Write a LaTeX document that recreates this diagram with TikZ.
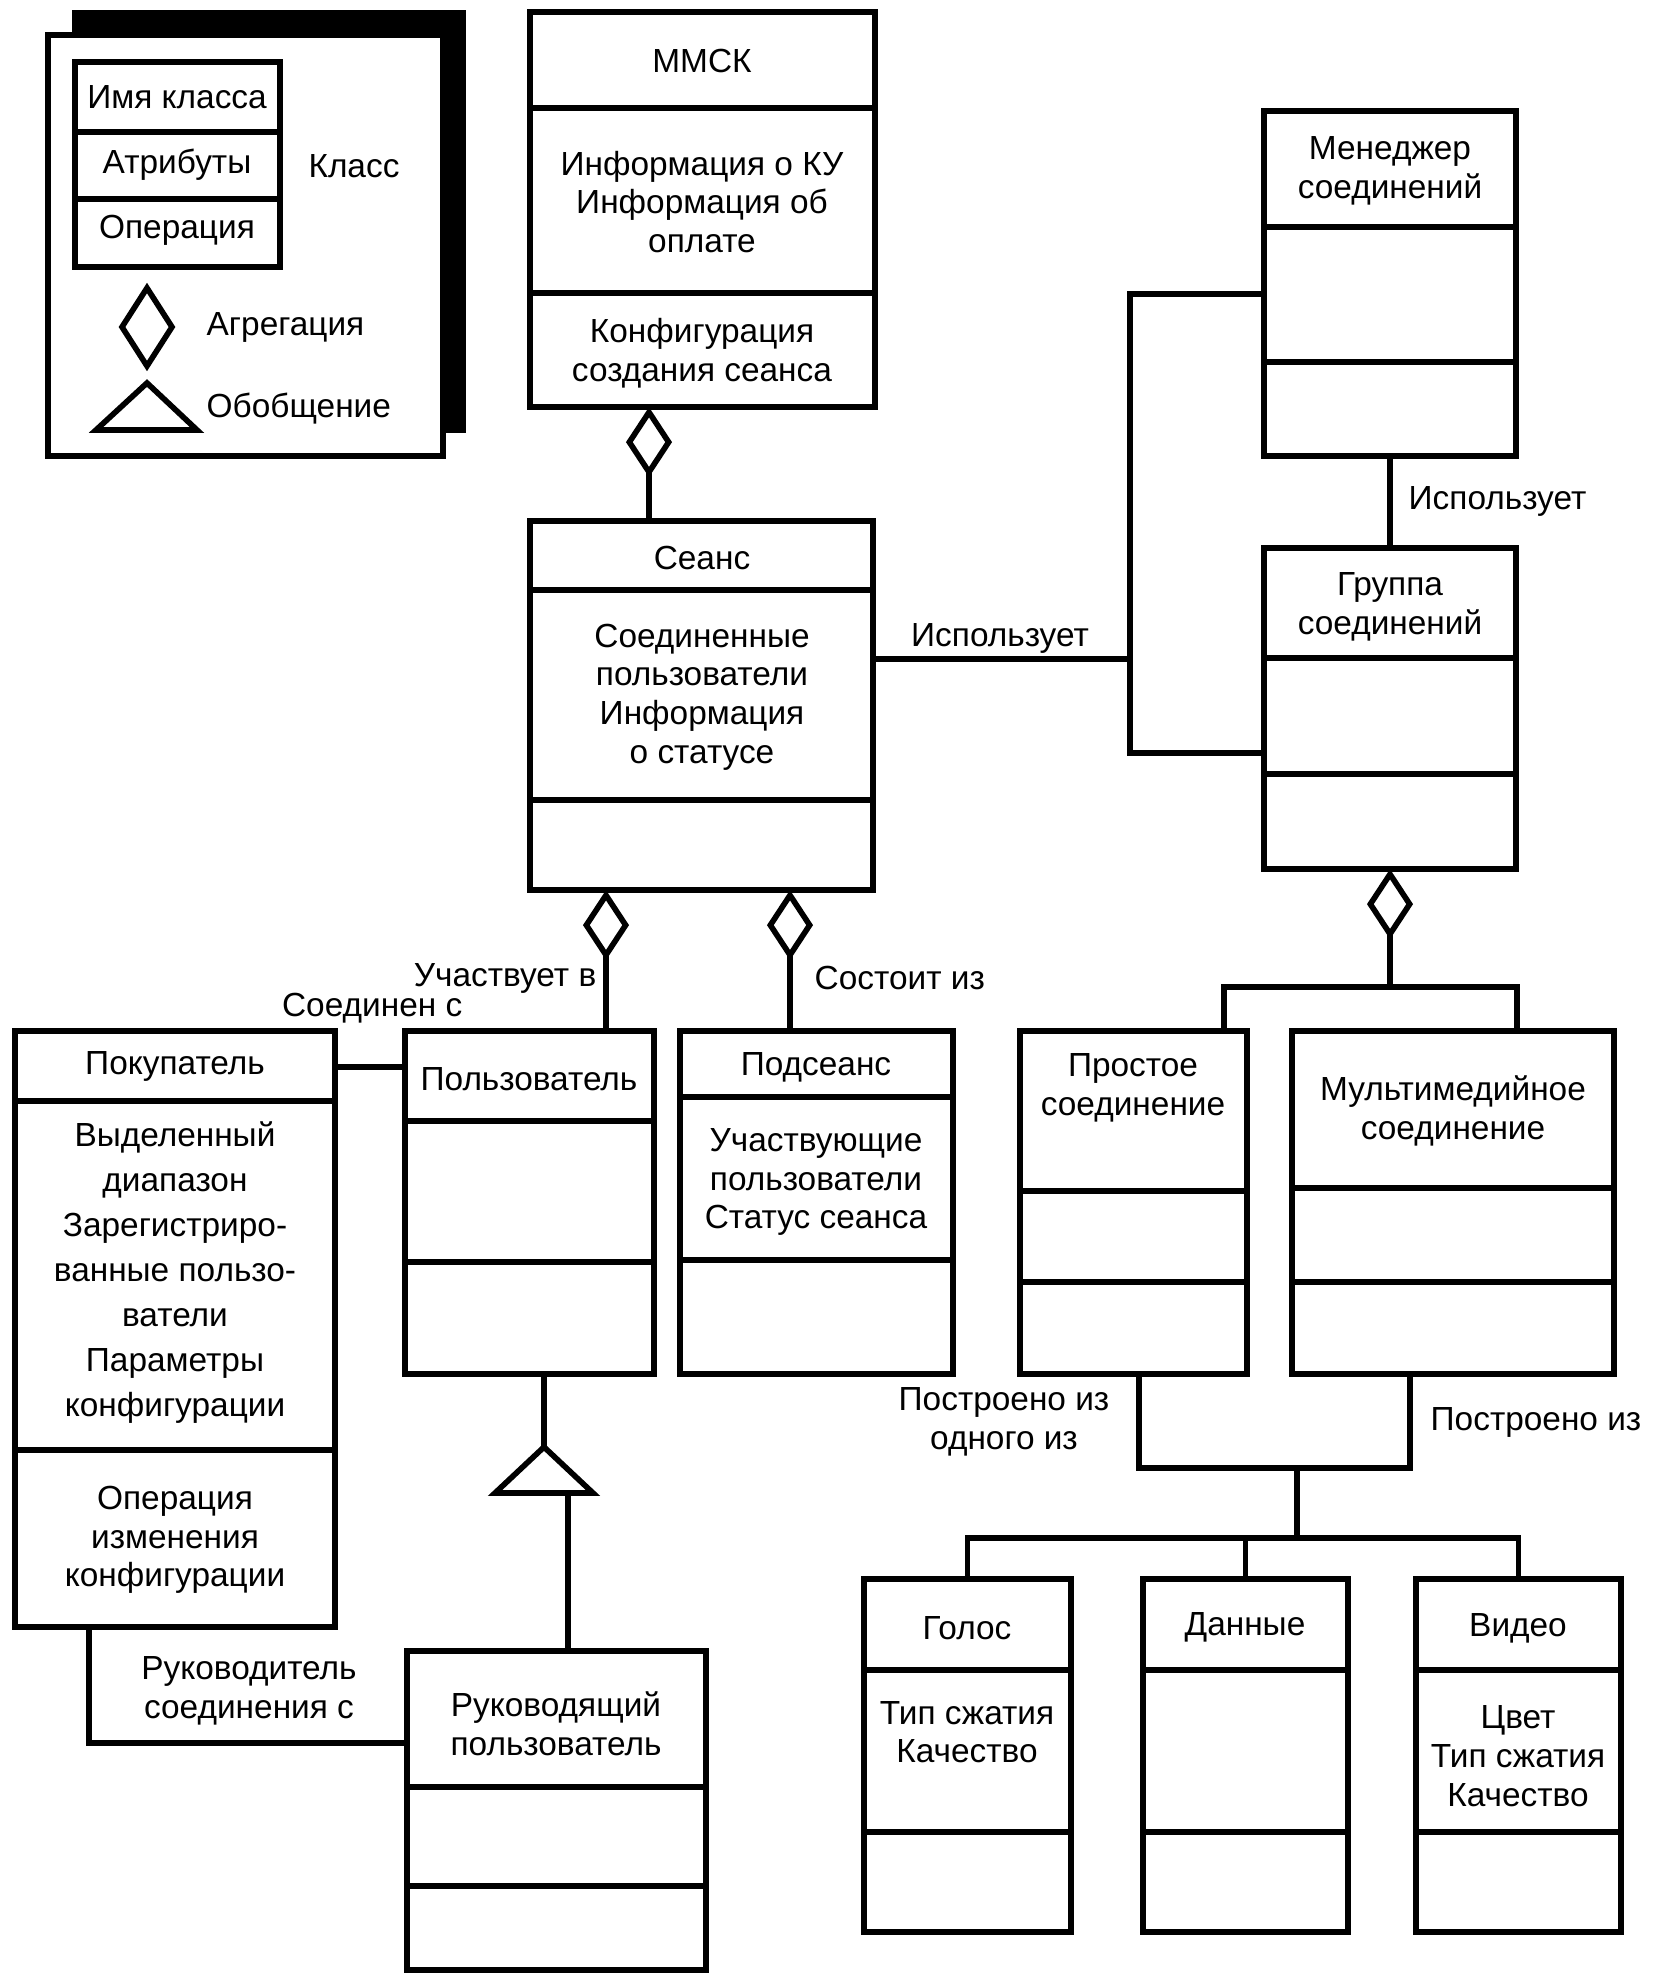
\documentclass[tikz,border=0pt]{standalone}
\usepackage{fontspec}
\setmainfont{Liberation Sans}
\usetikzlibrary{arrows.meta}

\begin{document}
\begin{tikzpicture}[x=0.01cm, y=-0.01cm,
		klass/.style={draw, line width=1.8pt, fill=white, inner sep=0pt, outer sep=0pt},
		part/.style={line width=1.6pt},
		link/.style={line width=1.6pt},
		aggr/.style={link, -{Diamond[open, length=0.7cm, width=0.46cm]}},
		txt/.style={font=\fontsize{9.5}{11}\selectfont, align=center, inner sep=0pt},
		lbl/.style={txt}]
				\useasboundingbox (0,0) rectangle (1654,1985);

				% Class box: name, x1, y1, x2, y2, first and second divider
				\def\classbox#1#2#3#4#5#6#7{%
					\pgfmathsetmacro{\bw}{(#4-#2)/100}
					\pgfmathsetmacro{\bh}{(#5-#3)/100}
					\node[klass, minimum width=\bw cm, minimum height=\bh cm] (#1) at ({(#2+#4)/2},{(#3+#5)/2}) {};
					\draw[part] (#2,#6) -- (#4,#6);
					\draw[part] (#2,#7) -- (#4,#7);
				}

				% Legend
				\fill (72,10) rectangle (466,433);
				\draw[line width=1.7pt, fill=white] (48,35) rectangle (443,456);
				\classbox{legend}{75}{62}{280}{267}{132}{199}
				\node[txt] (leg-name) at (177,97) {Имя класса};
				\node[txt] (leg-attr) at (177,165) {Атрибуты};
				\node[txt] (leg-oper) at (177,230) {Операция};
				\node[txt] (leg-class) at (354,166) {Класс};
				\draw[link] (147,288) -- (172,327) -- (147,366) -- (122,327) -- cycle;
				\node[txt, anchor=west] (leg-aggr) at (206,327) {Агрегация};
				\draw[link] (147,383) -- (197,430) -- (96,430) -- cycle;
				\node[txt, anchor=west] (leg-gen) at (206,409) {Обобщение};

				% Classes
				\classbox{mmsk}{530}{12}{875}{407}{108}{293}
				\classbox{seans}{530}{521}{873}{890}{590}{800}
				\classbox{mgr}{1264}{111}{1516}{456}{227}{362}
				\classbox{grp}{1264}{548}{1516}{869}{658}{774}
				\classbox{simple}{1020}{1031}{1247}{1374}{1191}{1282}
				\classbox{multi}{1292}{1031}{1614}{1374}{1188}{1282}
				\classbox{sub}{680}{1031}{953}{1374}{1097}{1260}
				\classbox{user}{405}{1031}{654}{1374}{1121}{1262}
				\classbox{buyer}{15}{1031}{335}{1627}{1101}{1450}
				\classbox{lead}{407}{1651}{706}{1970}{1787}{1886}
				\classbox{voice}{864}{1579}{1071}{1932}{1670}{1832}
				\classbox{data}{1143}{1579}{1348}{1932}{1670}{1832}
				\classbox{video}{1416}{1579}{1621}{1932}{1670}{1832}

				% Class texts
				\node[txt] (mmsk-name) at (702,61) {ММСК};
				\node[txt] (mmsk-attr) at (702,202) {Информация о КУ\\Информация об\\оплате};
				\node[txt] (mmsk-oper) at (702,353) {Конфигурация\\создания сеанса};
				\node[txt] (seans-name) at (702,558) {Сеанс};
				\node[txt] (seans-attr) at (702,697) {Соединенные\\пользователи\\Информация\\о статусе};
				\node[txt] (mgr-name) at (1390,171) {Менеджер\\соединений};
				\node[txt] (grp-name) at (1390,607) {Группа\\соединений};
				\node[txt] (simple-name) at (1133,1088) {Простое\\соединение};
				\node[txt] (multi-name) at (1453,1111) {Мультимедийное\\соединение};
				\node[txt] (sub-name) at (816,1067) {Подсеанс};
				\node[txt] (sub-attr) at (816,1182) {Участвующие\\пользователи\\Статус сеанса};
				\node[txt] (user-name) at (529,1079) {Пользователь};
				\node[txt] (buyer-name) at (175,1066) {Покупатель};
				\node[txt, font=\fontsize{9.5}{12.8}\selectfont] (buyer-attr) at (175,1273)
					{Выделенный\\диапазон\\Зарегистриро-\\ванные пользо-\\ватели\\Параметры\\конфигурации};
				\node[txt] (buyer-oper) at (175,1540) {Операция\\изменения\\конфигурации};
				\node[txt] (lead-name) at (556,1724) {Руководящий\\пользователь};
				\node[txt] (voice-name) at (967,1628) {Голос};
				\node[txt] (voice-attr) at (967,1732) {Тип сжатия\\Качество};
				\node[txt] (data-name) at (1245,1627) {Данные};
				\node[txt] (video-name) at (1518,1628) {Видео};
				\node[txt] (video-attr) at (1518,1756) {Цвет\\Тип сжатия\\Качество};

				% Aggregations
				\coordinate (k-mmsk) at (649,0);
				\draw[aggr] (seans.north -| k-mmsk) -- (mmsk.south -| k-mmsk);
				\coordinate (k-part) at (606,0);
				\draw[aggr] (user.north -| k-part) -- (seans.south -| k-part);
				\coordinate (k-sub) at (790,0);
				\draw[aggr] (sub.north -| k-sub) -- (seans.south -| k-sub);
				\coordinate (k-grp) at (1390,987);
				\draw[aggr] (k-grp) -- (grp.south);
				\coordinate (k-simple) at (1224,987);
				\coordinate (k-multi) at (1517,987);
				\draw[link] (simple.north -| k-simple) -- (k-simple) -- (k-multi) -- (multi.north -| k-multi);

				% Associations
				\coordinate (k-use) at (1130,659);
				\coordinate (k-top) at (1130,294);
				\coordinate (k-bot) at (1130,753);
				\draw[link] (seans.east |- k-use) -- (k-use);
				\draw[link] (mgr.west |- k-top) -- (k-top) -- (k-bot) -- (grp.west |- k-bot);
				\draw[link] (mgr.south) -- (grp.north);
				\coordinate (k-conn) at (0,1067);
				\draw[link] (buyer.east |- k-conn) -- (user.west |- k-conn);
				\coordinate (k-lead) at (89,1743);
				\draw[link] (buyer.south -| k-lead) -- (k-lead) -- (lead.west |- k-lead);

				% Generalization
				\coordinate (gen-apex) at (544,1447);
				\coordinate (gen-base) at (568,1493);
				\draw[link] (user.south -| gen-apex) -- (gen-apex);
				\draw[link] (gen-apex) -- ++(49,46) -- ++(-98,0) -- cycle;
				\draw[link] (lead.north -| gen-base) -- (gen-base);

				% Built from
				\coordinate (k-left) at (1139,1468);
				\coordinate (k-right) at (1410,1468);
				\coordinate (k-mid) at (1297,1468);
				\coordinate (k-low) at (1297,1538);
				\draw[link] (simple.south -| k-left) -- (k-left) -- (k-right) -- (multi.south -| k-right);
				\draw[link] (k-mid) -- (k-low);
				\draw[link] (voice.north) -- (voice.north |- k-low) -- (video.north |- k-low) -- (video.north);
				\draw[link] (data.north) -- (data.north |- k-low);

				% Annotations
				\node[lbl] (use-a) at (1000,638) {Использует};
				\node[lbl, anchor=west] (use-b) at (1408,501) {Использует};
				\node[lbl, anchor=east] (part-in) at (597,978) {Участвует в};
				\node[lbl, anchor=east] (conn-to) at (463,1008) {Соединен с};
				\node[lbl, anchor=west] (consists) at (814,978) {Состоит из};
				\node[lbl] (built-one) at (1004,1422) {Построено из\\одного из};
				\node[lbl, anchor=west] (built) at (1430,1422) {Построено из};
				\node[lbl] (leader) at (249,1691) {Руководитель\\соединения с};
			\end{tikzpicture}
\end{document}
